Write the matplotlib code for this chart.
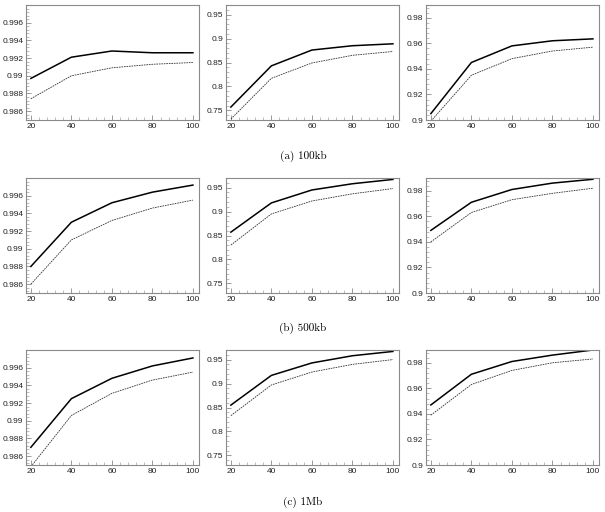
import matplotlib
matplotlib.use('Agg')
import matplotlib.pyplot as plt
from matplotlib.ticker import AutoMinorLocator, FixedLocator

# x positions shared by every panel
sizes = [20, 40, 60, 80, 100]

# row (a) 100kb
a1_solid = [0.9897, 0.9921, 0.9928, 0.9926, 0.9926]
a1_dash = [0.9874, 0.9900, 0.9909, 0.9913, 0.9915]
a2_solid = [0.757, 0.843, 0.876, 0.885, 0.889]
a2_dash = [0.732, 0.817, 0.849, 0.865, 0.873]
a3_solid = [0.905, 0.945, 0.958, 0.962, 0.9635]
a3_dash = [0.899, 0.935, 0.948, 0.954, 0.957]

# row (b) 500kb
b1_solid = [0.9880, 0.9930, 0.9952, 0.9964, 0.9972]
b1_dash = [0.9860, 0.9910, 0.9932, 0.9946, 0.9955]
b2_solid = [0.857, 0.918, 0.945, 0.958, 0.967]
b2_dash = [0.830, 0.895, 0.922, 0.937, 0.948]
b3_solid = [0.949, 0.971, 0.981, 0.986, 0.989]
b3_dash = [0.940, 0.963, 0.973, 0.978, 0.982]

# row (c) 1Mb
c1_solid = [0.9870, 0.9925, 0.9948, 0.9962, 0.9971]
c1_dash = [0.9848, 0.9906, 0.9931, 0.9946, 0.9955]
c2_solid = [0.855, 0.917, 0.943, 0.958, 0.967]
c2_dash = [0.833, 0.897, 0.924, 0.940, 0.950]
c3_solid = [0.947, 0.971, 0.981, 0.986, 0.990]
c3_dash = [0.939, 0.963, 0.974, 0.980, 0.983]

captions = ['(a) 100kb', '(b) 500kb', '(c) 1Mb']

# per-column y axis setup
col_ylim = [(0.985, 0.998), (0.73, 0.97), (0.9, 0.99)]
col_yticks = [[0.986, 0.988, 0.99, 0.992, 0.994, 0.996],
              [0.75, 0.8, 0.85, 0.9, 0.95],
              [0.9, 0.92, 0.94, 0.96, 0.98]]
col_ylabels = [['0.986', '0.988', '0.99', '0.992', '0.994', '0.996'],
               ['0.75', '0.8', '0.85', '0.9', '0.95'],
               ['0.9', '0.92', '0.94', '0.96', '0.98']]

rows = [
    [(a1_solid, a1_dash), (a2_solid, a2_dash), (a3_solid, a3_dash)],
    [(b1_solid, b1_dash), (b2_solid, b2_dash), (b3_solid, b3_dash)],
    [(c1_solid, c1_dash), (c2_solid, c2_dash), (c3_solid, c3_dash)],
]

W, H = 605, 512
fig = plt.figure(figsize=(W / 100, H / 100), dpi=100)
fig.patch.set_facecolor('white')

frame = '#8a8a8a'
col_left = [26, 226, 426]
ax_w = 173
row_top = [5, 178, 350]
ax_h = 115
caption_y = [156, 328, 502]


def px_rect(left, top, w, h):
    return [left / W, 1 - (top + h) / H, w / W, h / H]


for r, row in enumerate(rows):
    for c, (solid, dash) in enumerate(row):
        ax = fig.add_axes(px_rect(col_left[c], row_top[r], ax_w, ax_h))
        ax.plot(sizes, solid, color='black', lw=1.1, solid_joinstyle='round')
        ax.plot(sizes, dash, color='#333333', lw=0.6, linestyle=(0, (2, 1)))
        ax.set_xlim(17.6, 103)
        ax.set_ylim(*col_ylim[c])
        ax.set_xticks(sizes)
        ax.set_xticklabels([str(s) for s in sizes])
        ax.yaxis.set_major_locator(FixedLocator(col_yticks[c]))
        ax.set_yticklabels(col_ylabels[c])
        ax.xaxis.set_minor_locator(AutoMinorLocator(5))
        ax.yaxis.set_minor_locator(AutoMinorLocator(5))
        ax.tick_params(which='both', direction='in', color=frame,
                       top=False, right=False)
        ax.tick_params(which='major', length=3.5, width=0.6,
                       labelsize=6, pad=2)
        ax.tick_params(which='minor', length=2, width=0.4)
        for lab in ax.get_xticklabels() + ax.get_yticklabels():
            lab.set_fontfamily('Liberation Sans')
            lab.set_color('#222222')
        for sp in ax.spines.values():
            sp.set_color(frame)
            sp.set_linewidth(0.8)
    fig.text(303 / W, 1 - caption_y[r] / H, captions[r], ha='center',
             va='center', fontsize=8, family=['cmr10', 'DejaVu Serif'])

fig.savefig('out.png', dpi=100)
